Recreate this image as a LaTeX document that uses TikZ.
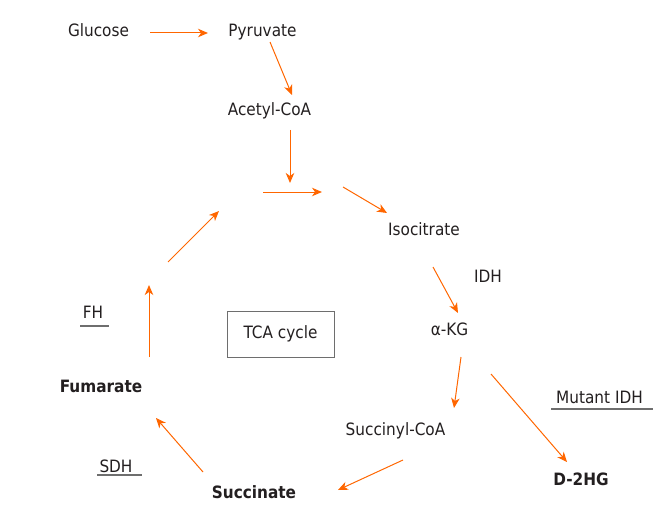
\documentclass[tikz,border=0pt]{standalone}
\usepackage{fontspec}
\setmainfont{DejaVu Sans}[FakeStretch=0.9]
\usetikzlibrary{arrows.meta,calc}
\definecolor{pathorange}{RGB}{255,102,0}
\definecolor{inkgray}{RGB}{35,31,32}
\definecolor{rulegray}{RGB}{110,110,110}
\tikzset{
  metab/.style={anchor=base,inner sep=0pt,text=inkgray,font=\fontsize{17}{20}\selectfont},
  keymetab/.style={metab,font=\fontsize{17}{20}\selectfont\bfseries},
  reaction/.style={draw=pathorange,line width=1pt,-{Stealth[length=10pt,width=8.5pt,inset=3pt]}},
  enzymeline/.style={draw=rulegray,line width=1.2pt}
}
\begin{document}
\begin{tikzpicture}[x=1pt,y=-1pt]
      \useasboundingbox (0,0) rectangle (669,532);
      \path
        (98.5,37) node[metab] (glucose){Glucose}
        (262.5,37) node[metab] (pyruvate){Pyruvate}
        (269.5,116) node[metab] (acetyl){Acetyl-CoA}
        (424,235) node[metab] (isocitrate){Isocitrate}
        (488,282) node[metab] (idh){IDH}
        (449.5,335) node[metab] (akg){α-KG}
        (395.5,435) node[metab] (succoa){Succinyl-CoA}
        (599.5,403) node[metab] (mutidh){Mutant IDH}
        (581,485) node[keymetab] (dhg){D-2HG}
        (254,498) node[keymetab] (succinate){Succinate}
        (116,472) node[metab] (sdh){SDH}
        (101,392) node[keymetab] (fumarate){Fumarate}
        (93,318) node[metab] (fh){FH};
      \node[draw=rulegray,line width=1pt,minimum width=107pt,minimum height=46pt,
        inner sep=0pt,text=inkgray,font=\fontsize{17}{20}\selectfont] (tca) at (280.5,334) {TCA cycle};
      % open ends of the cycle
      \coordinate (accin) at (290,183);
      \coordinate (citl) at (263,192);
      \coordinate (citr) at (322,192);
      \coordinate (cisin) at (343,187);
      \coordinate (fumout) at (149,285);
      \coordinate (oaal) at (168,262);
      \coordinate (oaar) at (219,211);
      \begin{scope}[reaction]
        \draw ($(glucose.base)+(51.5,-4)$) to ($(pyruvate.base)+(-54.5,-4)$);
        \draw ($(pyruvate.base)+(7.5,5)$) to ($(acetyl.base)+(22.5,-21)$);
        \draw ($(acetyl.base)+(20.5,14)$) to (accin);
        \draw (citl) to (citr);
        \draw (cisin) to ($(isocitrate.base)+(-37,-22)$);
        \draw ($(isocitrate.base)+(9,32)$) to ($(akg.base)+(8.5,-22)$);
        \draw ($(akg.base)+(11.5,22)$) to ($(succoa.base)+(58.5,-27)$);
        \draw ($(akg.base)+(41.5,39)$) to ($(dhg.base)+(-14,-23)$);
        \draw ($(succoa.base)+(7.5,25)$) to ($(succinate.base)+(84,-8)$);
        \draw ($(succinate.base)+(-51,-26)$) to ($(fumarate.base)+(55,26)$);
        \draw ($(fumarate.base)+(48,-35)$) to (fumout);
        \draw (oaal) to (oaar);
      \end{scope}
      \begin{scope}[enzymeline]
        \draw ($(fh.base)+(-13,8)$) to ($(fh.base)+(16,8)$);
        \draw ($(sdh.base)+(-19,3)$) to ($(sdh.base)+(26,3)$);
        \draw ($(mutidh.base)+(-48.5,6)$) to ($(mutidh.base)+(53.5,6)$);
      \end{scope}
    \end{tikzpicture}
\end{document}
